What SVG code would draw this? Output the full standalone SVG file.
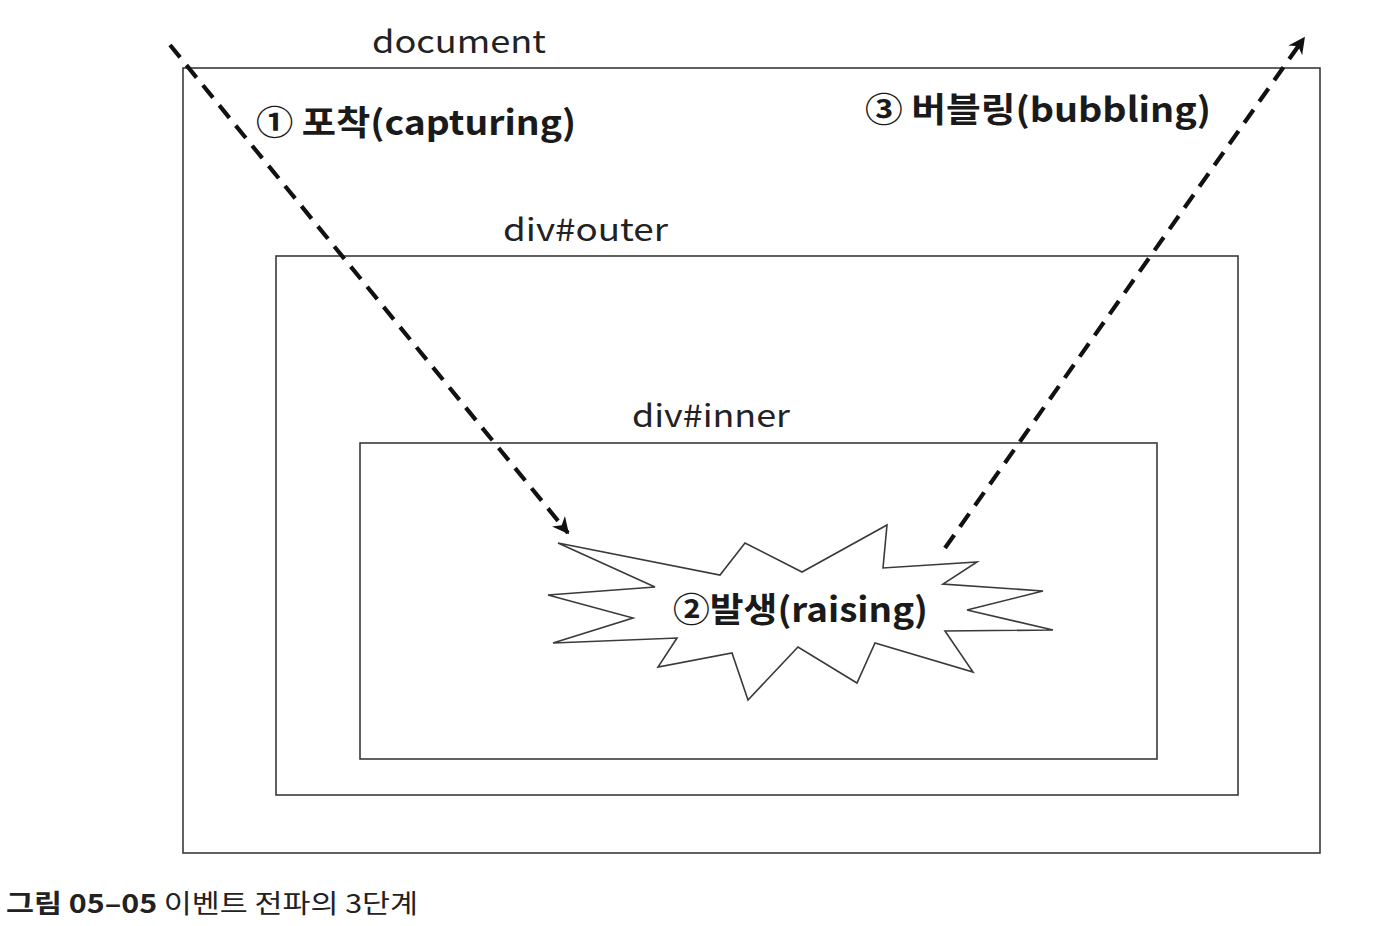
<svg xmlns="http://www.w3.org/2000/svg" width="1392" height="926" viewBox="0 0 1392 926">
<style>
  .box { fill: none; stroke: #3a3a3a; stroke-width: 1.6; }
  .lbl { font-family: "Noto Sans CJK KR", "Open Sans", sans-serif; font-size: 31px; fill: #222; }
  .bold { font-family: "Noto Sans CJK KR", "Open Sans", sans-serif; font-size: 34px; font-weight: bold; fill: #1a1a1a; }
  .cap { font-family: "Noto Sans CJK KR", "Liberation Sans", sans-serif; font-size: 26px; fill: #222; }
  .flow { fill: none; stroke: #111; stroke-width: 4.2; stroke-dasharray: 16 10; }
</style>
<defs>
  <marker id="ah" viewBox="0 0 10 10" refX="9" refY="5" markerWidth="4" markerHeight="4" orient="auto" markerUnits="strokeWidth">
    <path d="M0,0 L10,5 L0,10 L3,5 Z" fill="#111"/>
  </marker>
</defs>
<rect width="1392" height="926" fill="#fff"/>
<g id="document">
  <rect class="box" x="183" y="68" width="1137" height="785"/>
  <text class="lbl" x="372" y="53" textLength="174" lengthAdjust="spacingAndGlyphs">document</text>
</g>
<g id="outer">
  <rect class="box" x="276" y="256" width="962" height="539"/>
  <text class="lbl" x="503" y="241" textLength="165" lengthAdjust="spacingAndGlyphs">div#outer</text>
</g>
<g id="inner">
  <rect class="box" x="360" y="443" width="797" height="316"/>
  <text class="lbl" x="632" y="427" textLength="158" lengthAdjust="spacingAndGlyphs">div#inner</text>
</g>
<g id="raising">
  <polygon class="box" stroke="#333" points="558,543 720,575 745,543 802,572 887,525 883,568 977,562 943,584 1043,591 967,610 1053,630 945,631 973,672 875,643 857,683 798,647 748,700 732,653 658,667 677,638 553,643 633,618 548,595 655,587"/>
  <text class="bold" x="673" y="622" textLength="255" lengthAdjust="spacingAndGlyphs">②발생(raising)</text>
</g>
<g id="labels">
  <text class="bold" x="256" y="135" textLength="320" lengthAdjust="spacingAndGlyphs">① 포착(capturing)</text>
  <text class="bold" x="865" y="122" textLength="346" lengthAdjust="spacingAndGlyphs">③ 버블링(bubbling)</text>
</g>
<g id="connectors">
  <line class="flow" x1="170" y1="45" x2="568" y2="533" marker-end="url(#ah)"/>
  <line class="flow" x1="945" y1="548" x2="1304" y2="38" marker-end="url(#ah)"/>
</g>
<g id="caption">
  <text class="cap" x="6" y="913" textLength="412" lengthAdjust="spacingAndGlyphs"><tspan font-weight="bold">그림 05–05</tspan> 이벤트 전파의 3단계</text>
</g>
</svg>
